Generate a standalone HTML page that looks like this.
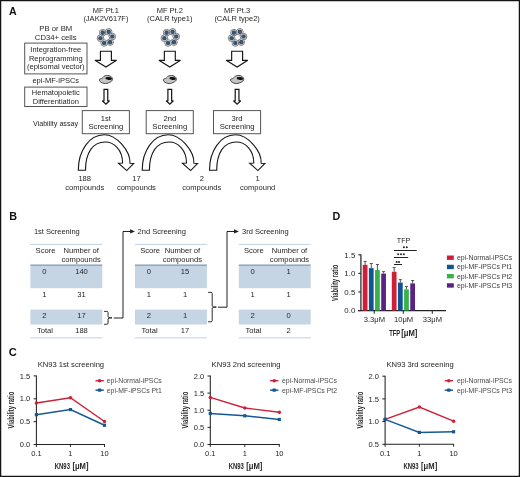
<!DOCTYPE html>
<html><head><meta charset="utf-8"><style>
html,body{margin:0;padding:0;background:#fff;overflow:hidden;}
svg{display:block;font-family:"Liberation Sans",sans-serif;will-change:transform;}
</style></head><body>
<svg width="520" height="477" viewBox="0 0 520 477" font-family="Liberation Sans, sans-serif">
<rect x="0.6" y="0.6" width="518.8" height="475.8" fill="none" stroke="#151515" stroke-width="1.3"/>
<text x="9.10" y="15.20" font-size="10.6" text-anchor="start" fill="#111" font-weight="bold">A</text>
<text x="105.90" y="12.60" font-size="7.5" text-anchor="middle" fill="#262626">MF Pt.1</text>
<text x="105.90" y="20.80" font-size="7.5" text-anchor="middle" fill="#262626">(JAK2V617F)</text>
<text x="169.80" y="12.60" font-size="7.5" text-anchor="middle" fill="#262626">MF Pt.2</text>
<text x="169.80" y="20.80" font-size="7.5" text-anchor="middle" fill="#262626">(CALR type1)</text>
<text x="237.10" y="12.60" font-size="7.5" text-anchor="middle" fill="#262626">MF Pt.3</text>
<text x="237.10" y="20.80" font-size="7.5" text-anchor="middle" fill="#262626">(CALR type2)</text>
<text x="55.80" y="30.50" font-size="7.7" text-anchor="middle" fill="#262626">PB or BM</text>
<text x="55.70" y="39.50" font-size="7.7" text-anchor="middle" fill="#262626">CD34+ cells</text>
<rect x="24.7" y="43.1" width="62.3" height="30.8" fill="#fff" stroke="#555" stroke-width="1"/>
<text x="55.80" y="52.20" font-size="7.5" text-anchor="middle" fill="#262626">Integration-free</text>
<text x="55.80" y="60.70" font-size="7.5" text-anchor="middle" fill="#262626">Reprogramming</text>
<text x="55.80" y="69.20" font-size="7.5" text-anchor="middle" fill="#262626">(episomal vector)</text>
<text x="55.80" y="82.75" font-size="7.5" text-anchor="middle" fill="#262626">epi-MF-iPSCs</text>
<rect x="24.7" y="87.1" width="62.3" height="19.4" fill="#fff" stroke="#555" stroke-width="1"/>
<text x="55.80" y="95.20" font-size="7.5" text-anchor="middle" fill="#262626">Hematopoietic</text>
<text x="55.80" y="103.50" font-size="7.5" text-anchor="middle" fill="#262626">Differentiation</text>
<text x="55.50" y="126.40" font-size="7.15" text-anchor="middle" fill="#262626">Viability assay</text>
<circle cx="102.71" cy="32.67" r="3.3" fill="#fff" stroke="#666" stroke-width="0.85"/>
<circle cx="108.65" cy="31.84" r="3.3" fill="#fff" stroke="#666" stroke-width="0.85"/>
<circle cx="112.34" cy="36.56" r="3.3" fill="#fff" stroke="#666" stroke-width="0.85"/>
<circle cx="110.09" cy="42.13" r="3.3" fill="#fff" stroke="#666" stroke-width="0.85"/>
<circle cx="104.15" cy="42.96" r="3.3" fill="#fff" stroke="#666" stroke-width="0.85"/>
<circle cx="100.46" cy="38.24" r="3.3" fill="#fff" stroke="#666" stroke-width="0.85"/>
<circle cx="102.71" cy="32.67" r="2.3" fill="#3b546e"/>
<circle cx="108.65" cy="31.84" r="2.3" fill="#3b546e"/>
<circle cx="112.34" cy="36.56" r="2.3" fill="#3b546e"/>
<circle cx="110.09" cy="42.13" r="2.3" fill="#3b546e"/>
<circle cx="104.15" cy="42.96" r="2.3" fill="#3b546e"/>
<circle cx="100.46" cy="38.24" r="2.3" fill="#3b546e"/>
<path d="M100.45,51.25 H111.40 V60.3 H116.60 L105.90,67.0 L95.00,60.3 H100.45 Z" fill="#fff" stroke="#151515" stroke-width="1.15" stroke-linejoin="miter" stroke-miterlimit="2.2"/>
<path d="M99.39,79.53 C99.67,78.97 101.26,78.68 101.93,78.26 C102.60,77.84 102.99,77.37 103.42,76.99 C103.85,76.61 103.97,76.25 104.50,76.00 C105.03,75.75 105.83,75.55 106.60,75.50 C107.37,75.45 108.33,75.50 109.10,75.70 C109.87,75.90 110.65,76.25 111.20,76.70 C111.75,77.15 112.22,77.82 112.40,78.40 C112.59,78.98 112.57,79.63 112.31,80.17 C112.05,80.71 111.50,81.19 110.83,81.65 C110.16,82.11 109.21,82.60 108.29,82.92 C107.37,83.24 106.31,83.56 105.32,83.56 C104.33,83.56 103.21,83.24 102.36,82.92 C101.51,82.60 100.73,82.22 100.24,81.65 C99.74,81.09 99.11,80.09 99.39,79.53 Z" fill="#c4c4c4" stroke="#333" stroke-width="0.9"/>
<ellipse cx="108.70" cy="78.5" rx="3.25" ry="1.4" fill="#111" transform="rotate(8 108.70 78.5)"/>
<path d="M104.00,89.45 H107.75 V100.75 H109.50 L105.90,104.2 L102.30,100.75 H104.00 Z" fill="#fff" stroke="#151515" stroke-width="1.2" stroke-linejoin="miter" stroke-miterlimit="2.2"/>
<rect x="82.30" y="110.6" width="47.1" height="23.1" fill="#fff" stroke="#555" stroke-width="1"/>
<text x="105.90" y="120.70" font-size="7.6" text-anchor="middle" fill="#262626">1st</text>
<text x="105.90" y="128.80" font-size="7.75" text-anchor="middle" fill="#262626">Screening</text>
<path d="M78.30,170.3 C78.30,151 89.00,134.8 104.30,134.8 C116.50,134.8 130.50,151 130.00,163.2 L133.70,163.4 L126.75,170.6 L118.45,163.2 L122.60,163 C122.60,150 114.00,142 105.30,142 C92.50,142 85.50,153 85.50,170.3 Z" fill="#fff" stroke="#151515" stroke-width="1.1" stroke-linejoin="miter"/>
<circle cx="166.61" cy="32.67" r="3.3" fill="#fff" stroke="#666" stroke-width="0.85"/>
<circle cx="172.55" cy="31.84" r="3.3" fill="#fff" stroke="#666" stroke-width="0.85"/>
<circle cx="176.24" cy="36.56" r="3.3" fill="#fff" stroke="#666" stroke-width="0.85"/>
<circle cx="173.99" cy="42.13" r="3.3" fill="#fff" stroke="#666" stroke-width="0.85"/>
<circle cx="168.05" cy="42.96" r="3.3" fill="#fff" stroke="#666" stroke-width="0.85"/>
<circle cx="164.36" cy="38.24" r="3.3" fill="#fff" stroke="#666" stroke-width="0.85"/>
<circle cx="166.61" cy="32.67" r="2.3" fill="#3b546e"/>
<circle cx="172.55" cy="31.84" r="2.3" fill="#3b546e"/>
<circle cx="176.24" cy="36.56" r="2.3" fill="#3b546e"/>
<circle cx="173.99" cy="42.13" r="2.3" fill="#3b546e"/>
<circle cx="168.05" cy="42.96" r="2.3" fill="#3b546e"/>
<circle cx="164.36" cy="38.24" r="2.3" fill="#3b546e"/>
<path d="M164.35,51.25 H175.30 V60.3 H180.50 L169.80,67.0 L158.90,60.3 H164.35 Z" fill="#fff" stroke="#151515" stroke-width="1.15" stroke-linejoin="miter" stroke-miterlimit="2.2"/>
<path d="M163.29,79.53 C163.57,78.97 165.16,78.68 165.83,78.26 C166.50,77.84 166.89,77.37 167.32,76.99 C167.75,76.61 167.87,76.25 168.40,76.00 C168.93,75.75 169.73,75.55 170.50,75.50 C171.27,75.45 172.23,75.50 173.00,75.70 C173.77,75.90 174.55,76.25 175.10,76.70 C175.65,77.15 176.12,77.82 176.30,78.40 C176.49,78.98 176.47,79.63 176.21,80.17 C175.95,80.71 175.40,81.19 174.73,81.65 C174.06,82.11 173.11,82.60 172.19,82.92 C171.27,83.24 170.21,83.56 169.22,83.56 C168.23,83.56 167.11,83.24 166.26,82.92 C165.41,82.60 164.63,82.22 164.14,81.65 C163.64,81.09 163.01,80.09 163.29,79.53 Z" fill="#c4c4c4" stroke="#333" stroke-width="0.9"/>
<ellipse cx="172.60" cy="78.5" rx="3.25" ry="1.4" fill="#111" transform="rotate(8 172.60 78.5)"/>
<path d="M167.90,89.45 H171.65 V100.75 H173.40 L169.80,104.2 L166.20,100.75 H167.90 Z" fill="#fff" stroke="#151515" stroke-width="1.2" stroke-linejoin="miter" stroke-miterlimit="2.2"/>
<rect x="146.20" y="110.6" width="47.1" height="23.1" fill="#fff" stroke="#555" stroke-width="1"/>
<text x="169.80" y="120.70" font-size="7.6" text-anchor="middle" fill="#262626">2nd</text>
<text x="169.80" y="128.80" font-size="7.75" text-anchor="middle" fill="#262626">Screening</text>
<path d="M142.20,170.3 C142.20,151 152.90,134.8 168.20,134.8 C180.40,134.8 194.40,151 193.90,163.2 L197.60,163.4 L190.65,170.6 L182.35,163.2 L186.50,163 C186.50,150 177.90,142 169.20,142 C156.40,142 149.40,153 149.40,170.3 Z" fill="#fff" stroke="#151515" stroke-width="1.1" stroke-linejoin="miter"/>
<circle cx="233.91" cy="32.67" r="3.3" fill="#fff" stroke="#666" stroke-width="0.85"/>
<circle cx="239.85" cy="31.84" r="3.3" fill="#fff" stroke="#666" stroke-width="0.85"/>
<circle cx="243.54" cy="36.56" r="3.3" fill="#fff" stroke="#666" stroke-width="0.85"/>
<circle cx="241.29" cy="42.13" r="3.3" fill="#fff" stroke="#666" stroke-width="0.85"/>
<circle cx="235.35" cy="42.96" r="3.3" fill="#fff" stroke="#666" stroke-width="0.85"/>
<circle cx="231.66" cy="38.24" r="3.3" fill="#fff" stroke="#666" stroke-width="0.85"/>
<circle cx="233.91" cy="32.67" r="2.3" fill="#3b546e"/>
<circle cx="239.85" cy="31.84" r="2.3" fill="#3b546e"/>
<circle cx="243.54" cy="36.56" r="2.3" fill="#3b546e"/>
<circle cx="241.29" cy="42.13" r="2.3" fill="#3b546e"/>
<circle cx="235.35" cy="42.96" r="2.3" fill="#3b546e"/>
<circle cx="231.66" cy="38.24" r="2.3" fill="#3b546e"/>
<path d="M231.65,51.25 H242.60 V60.3 H247.80 L237.10,67.0 L226.20,60.3 H231.65 Z" fill="#fff" stroke="#151515" stroke-width="1.15" stroke-linejoin="miter" stroke-miterlimit="2.2"/>
<path d="M230.59,79.53 C230.87,78.97 232.46,78.68 233.13,78.26 C233.80,77.84 234.19,77.37 234.62,76.99 C235.05,76.61 235.17,76.25 235.70,76.00 C236.23,75.75 237.03,75.55 237.80,75.50 C238.57,75.45 239.53,75.50 240.30,75.70 C241.07,75.90 241.85,76.25 242.40,76.70 C242.95,77.15 243.41,77.82 243.60,78.40 C243.78,78.98 243.77,79.63 243.51,80.17 C243.25,80.71 242.70,81.19 242.03,81.65 C241.36,82.11 240.41,82.60 239.49,82.92 C238.57,83.24 237.51,83.56 236.52,83.56 C235.53,83.56 234.41,83.24 233.56,82.92 C232.71,82.60 231.94,82.22 231.44,81.65 C230.94,81.09 230.31,80.09 230.59,79.53 Z" fill="#c4c4c4" stroke="#333" stroke-width="0.9"/>
<ellipse cx="239.90" cy="78.5" rx="3.25" ry="1.4" fill="#111" transform="rotate(8 239.90 78.5)"/>
<path d="M235.20,89.45 H238.95 V100.75 H240.70 L237.10,104.2 L233.50,100.75 H235.20 Z" fill="#fff" stroke="#151515" stroke-width="1.2" stroke-linejoin="miter" stroke-miterlimit="2.2"/>
<rect x="213.50" y="110.6" width="47.1" height="23.1" fill="#fff" stroke="#555" stroke-width="1"/>
<text x="237.10" y="120.70" font-size="7.6" text-anchor="middle" fill="#262626">3rd</text>
<text x="237.10" y="128.80" font-size="7.75" text-anchor="middle" fill="#262626">Screening</text>
<path d="M209.50,170.3 C209.50,151 220.20,134.8 235.50,134.8 C247.70,134.8 261.70,151 261.20,163.2 L264.90,163.4 L257.95,170.6 L249.65,163.2 L253.80,163 C253.80,150 245.20,142 236.50,142 C223.70,142 216.70,153 216.70,170.3 Z" fill="#fff" stroke="#151515" stroke-width="1.1" stroke-linejoin="miter"/>
<text x="84.70" y="180.50" font-size="7.55" text-anchor="middle" fill="#262626">188</text>
<text x="84.70" y="189.50" font-size="7.55" text-anchor="middle" fill="#262626">compounds</text>
<text x="136.40" y="180.50" font-size="7.55" text-anchor="middle" fill="#262626">17</text>
<text x="136.40" y="189.50" font-size="7.55" text-anchor="middle" fill="#262626">compounds</text>
<text x="201.80" y="180.50" font-size="7.55" text-anchor="middle" fill="#262626">2</text>
<text x="201.80" y="189.50" font-size="7.55" text-anchor="middle" fill="#262626">compounds</text>
<text x="257.70" y="180.50" font-size="7.55" text-anchor="middle" fill="#262626">1</text>
<text x="257.70" y="189.50" font-size="7.55" text-anchor="middle" fill="#262626">compound</text>
<text x="9.30" y="219.60" font-size="10.8" text-anchor="start" fill="#111" font-weight="bold">B</text>
<text x="33.90" y="234.40" font-size="7.5" text-anchor="start" fill="#262626">1st Screening</text>
<rect x="30.4" y="265.4" width="71.9" height="22.8" fill="#c5d5e4"/>
<rect x="30.4" y="309.6" width="71.9" height="14.9" fill="#c5d5e4"/>
<rect x="30.4" y="243.9" width="71.9" height="1" fill="#bfd1e3"/>
<rect x="30.4" y="264.6" width="71.9" height="1.0" fill="#5783ad"/>
<rect x="30.4" y="337.3" width="71.9" height="1.1" fill="#c3d4e5"/>
<text x="45.50" y="253.40" font-size="7.6" text-anchor="middle" fill="#262626">Score</text>
<text x="81.20" y="253.40" font-size="7.6" text-anchor="middle" fill="#262626">Number of</text>
<text x="81.20" y="261.60" font-size="7.6" text-anchor="middle" fill="#262626">compounds</text>
<text x="44.30" y="273.80" font-size="7.6" text-anchor="middle" fill="#262626">0</text>
<text x="81.50" y="273.80" font-size="7.6" text-anchor="middle" fill="#262626">140</text>
<text x="44.30" y="297.20" font-size="7.6" text-anchor="middle" fill="#262626">1</text>
<text x="81.50" y="297.20" font-size="7.6" text-anchor="middle" fill="#262626">31</text>
<text x="44.30" y="318.10" font-size="7.6" text-anchor="middle" fill="#262626">2</text>
<text x="81.50" y="318.10" font-size="7.6" text-anchor="middle" fill="#262626">17</text>
<text x="45.00" y="333.10" font-size="7.6" text-anchor="middle" fill="#262626">Total</text>
<text x="81.50" y="333.10" font-size="7.6" text-anchor="middle" fill="#262626">188</text>
<text x="137.60" y="234.40" font-size="7.5" text-anchor="start" fill="#262626">2nd Screening</text>
<rect x="135.0" y="265.4" width="71.9" height="22.8" fill="#c5d5e4"/>
<rect x="135.0" y="309.6" width="71.9" height="14.9" fill="#c5d5e4"/>
<rect x="135.0" y="243.9" width="71.9" height="1" fill="#bfd1e3"/>
<rect x="135.0" y="264.6" width="71.9" height="1.0" fill="#5783ad"/>
<rect x="135.0" y="337.3" width="71.9" height="1.1" fill="#c3d4e5"/>
<text x="150.10" y="253.40" font-size="7.6" text-anchor="middle" fill="#262626">Score</text>
<text x="182.40" y="253.40" font-size="7.6" text-anchor="middle" fill="#262626">Number of</text>
<text x="182.40" y="261.60" font-size="7.6" text-anchor="middle" fill="#262626">compounds</text>
<text x="148.90" y="273.80" font-size="7.6" text-anchor="middle" fill="#262626">0</text>
<text x="185.00" y="273.80" font-size="7.6" text-anchor="middle" fill="#262626">15</text>
<text x="148.90" y="297.20" font-size="7.6" text-anchor="middle" fill="#262626">1</text>
<text x="185.00" y="297.20" font-size="7.6" text-anchor="middle" fill="#262626">1</text>
<text x="148.90" y="318.10" font-size="7.6" text-anchor="middle" fill="#262626">2</text>
<text x="185.00" y="318.10" font-size="7.6" text-anchor="middle" fill="#262626">1</text>
<text x="149.60" y="333.10" font-size="7.6" text-anchor="middle" fill="#262626">Total</text>
<text x="185.00" y="333.10" font-size="7.6" text-anchor="middle" fill="#262626">17</text>
<text x="242.00" y="234.40" font-size="7.5" text-anchor="start" fill="#262626">3rd Screening</text>
<rect x="238.8" y="265.4" width="71.9" height="22.8" fill="#c5d5e4"/>
<rect x="238.8" y="309.6" width="71.9" height="14.9" fill="#c5d5e4"/>
<rect x="238.8" y="243.9" width="71.9" height="1" fill="#bfd1e3"/>
<rect x="238.8" y="264.6" width="71.9" height="1.0" fill="#5783ad"/>
<rect x="238.8" y="337.3" width="71.9" height="1.1" fill="#c3d4e5"/>
<text x="253.90" y="253.40" font-size="7.6" text-anchor="middle" fill="#262626">Score</text>
<text x="289.50" y="253.40" font-size="7.6" text-anchor="middle" fill="#262626">Number of</text>
<text x="289.50" y="261.60" font-size="7.6" text-anchor="middle" fill="#262626">compounds</text>
<text x="252.70" y="273.80" font-size="7.6" text-anchor="middle" fill="#262626">0</text>
<text x="288.50" y="273.80" font-size="7.6" text-anchor="middle" fill="#262626">1</text>
<text x="252.70" y="297.20" font-size="7.6" text-anchor="middle" fill="#262626">1</text>
<text x="288.50" y="297.20" font-size="7.6" text-anchor="middle" fill="#262626">1</text>
<text x="252.70" y="318.10" font-size="7.6" text-anchor="middle" fill="#262626">2</text>
<text x="288.50" y="318.10" font-size="7.6" text-anchor="middle" fill="#262626">0</text>
<text x="253.40" y="333.10" font-size="7.6" text-anchor="middle" fill="#262626">Total</text>
<text x="288.50" y="333.10" font-size="7.6" text-anchor="middle" fill="#262626">2</text>
<path d="M104.1,311.4 L106.85,311.4 Q108.05,311.4 108.05,312.60 L108.05,316.85 Q108.05,317.85 112.00,317.85 Q108.05,317.85 108.05,318.85 L108.05,323.10 Q108.05,324.3 106.85,324.3 L104.1,324.3" fill="none" stroke="#222" stroke-width="0.95"/>
<path d="M113.8,318.0 H123 V231.5 H132.5" fill="none" stroke="#222" stroke-width="1.0"/>
<path d="M130.1,229.2 L135.0,231.4 L130.1,233.6 Z" fill="#222"/>
<path d="M208.1,292.4 L211.00,292.4 Q212.20,292.4 212.20,293.60 L212.20,306.10 Q212.20,307.10 216.30,307.10 Q212.20,307.10 212.20,308.10 L212.20,320.60 Q212.20,321.8 211.00,321.8 L208.1,321.8" fill="none" stroke="#222" stroke-width="0.95"/>
<path d="M217.9,307.2 H227 V231.5 H236" fill="none" stroke="#222" stroke-width="1.0"/>
<path d="M234.0,229.2 L238.9,231.4 L234.0,233.6 Z" fill="#222"/>
<text x="332.60" y="219.60" font-size="10.8" text-anchor="start" fill="#111" font-weight="bold">D</text>
<path d="M360.9,254.50 V310.6" fill="none" stroke="#4a4a4a" stroke-width="1.5"/>
<path d="M358.0,310.6 H446" fill="none" stroke="#222" stroke-width="1.3"/>
<path d="M358.29999999999995,254.80 H360.9" stroke="#333" stroke-width="1.2"/>
<text x="355.30" y="257.60" font-size="7.9" text-anchor="end" fill="#262626">1.5</text>
<path d="M358.29999999999995,273.40 H360.9" stroke="#333" stroke-width="1.2"/>
<text x="355.30" y="276.20" font-size="7.9" text-anchor="end" fill="#262626">1.0</text>
<path d="M358.29999999999995,292.00 H360.9" stroke="#333" stroke-width="1.2"/>
<text x="355.30" y="294.80" font-size="7.9" text-anchor="end" fill="#262626">0.5</text>
<path d="M358.29999999999995,310.60 H360.9" stroke="#333" stroke-width="1.2"/>
<text x="355.30" y="313.40" font-size="7.9" text-anchor="end" fill="#262626">0.0</text>
<path d="M374.2,310.6 V313.8" stroke="#333" stroke-width="1.1"/>
<path d="M403.3,310.6 V313.8" stroke="#333" stroke-width="1.1"/>
<path d="M432.3,310.6 V313.8" stroke="#333" stroke-width="1.1"/>
<text x="374.40" y="322.10" font-size="7.6" text-anchor="middle" fill="#262626">3.3μM</text>
<text x="403.60" y="322.10" font-size="7.6" text-anchor="middle" fill="#262626">10μM</text>
<text x="432.40" y="322.10" font-size="7.6" text-anchor="middle" fill="#262626">33μM</text>
<rect x="362.75" y="264.81" width="4.75" height="45.79" fill="#cc1f3a"/>
<path d="M365.12,264.81 V261.38 M363.60,261.38 H366.65" stroke="#444" stroke-width="0.9" fill="none"/>
<rect x="368.90" y="268.12" width="4.75" height="42.48" fill="#11548f"/>
<path d="M371.27,268.12 V263.50 M369.75,263.50 H372.80" stroke="#444" stroke-width="0.9" fill="none"/>
<rect x="375.05" y="270.05" width="4.75" height="40.55" fill="#35b249"/>
<path d="M377.42,270.05 V264.47 M375.90,264.47 H378.95" stroke="#444" stroke-width="0.9" fill="none"/>
<rect x="381.20" y="273.59" width="4.75" height="37.01" fill="#5a2383"/>
<path d="M383.57,273.59 V271.61 M382.05,271.61 H385.10" stroke="#444" stroke-width="0.9" fill="none"/>
<rect x="391.80" y="271.76" width="4.75" height="38.84" fill="#cc1f3a"/>
<path d="M394.17,271.76 V267.60 M392.65,267.60 H395.70" stroke="#444" stroke-width="0.9" fill="none"/>
<rect x="397.95" y="282.59" width="4.75" height="28.01" fill="#11548f"/>
<path d="M400.32,282.59 V279.61 M398.80,279.61 H401.85" stroke="#444" stroke-width="0.9" fill="none"/>
<rect x="404.10" y="289.40" width="4.75" height="21.20" fill="#35b249"/>
<path d="M406.47,289.40 V286.42 M404.95,286.42 H408.00" stroke="#444" stroke-width="0.9" fill="none"/>
<rect x="410.25" y="283.41" width="4.75" height="27.19" fill="#5a2383"/>
<path d="M412.62,283.41 V280.51 M411.10,280.51 H414.15" stroke="#444" stroke-width="0.9" fill="none"/>
<text x="403.60" y="242.90" font-size="7.2" text-anchor="middle" fill="#262626">TFP</text>
<path d="M394,250.45 H416.7 M394,257.5 H408.2 M394,264.55 H402" stroke="#222" stroke-width="1.1"/>
<circle cx="403.9" cy="247.3" r="1.0" fill="#222"/>
<circle cx="406.8" cy="247.3" r="1.0" fill="#222"/>
<circle cx="398.2" cy="254.3" r="1.0" fill="#222"/>
<circle cx="401.0" cy="254.3" r="1.0" fill="#222"/>
<circle cx="403.8" cy="254.3" r="1.0" fill="#222"/>
<circle cx="396.7" cy="262.0" r="1.0" fill="#222"/>
<circle cx="399.0" cy="262.0" r="1.0" fill="#222"/>
<rect x="446.9" y="255.50" width="6.9" height="4.4" fill="#cc1f3a"/>
<text x="456.90" y="260.10" font-size="6.92" text-anchor="start" fill="#3a3a3a">epi-Normal-iPSCs</text>
<rect x="446.9" y="264.75" width="6.9" height="4.4" fill="#11548f"/>
<text x="456.90" y="269.35" font-size="6.92" text-anchor="start" fill="#3a3a3a">epi-MF-iPSCs Pt1</text>
<rect x="446.9" y="274.00" width="6.9" height="4.4" fill="#35b249"/>
<text x="456.90" y="278.60" font-size="6.92" text-anchor="start" fill="#3a3a3a">epi-MF-iPSCs Pt2</text>
<rect x="446.9" y="283.25" width="6.9" height="4.4" fill="#5a2383"/>
<text x="456.90" y="287.85" font-size="6.92" text-anchor="start" fill="#3a3a3a">epi-MF-iPSCs Pt3</text>
<text transform="translate(338.00,282.90) rotate(-90) scale(0.71,1)" font-size="8.2" text-anchor="middle" fill="#262626" font-weight="bold">Viability ratio</text>
<text transform="translate(389.16,335.60) scale(0.66,1)" font-size="8.8" text-anchor="start" fill="#262626" font-weight="bold">TFP</text>
<text transform="translate(401.18,335.60) scale(0.87,1)" font-size="8.8" text-anchor="start" fill="#262626" font-weight="bold">[μM]</text>
<text x="8.80" y="355.90" font-size="11.1" text-anchor="start" fill="#111" font-weight="bold">C</text>
<path d="M36.4,375.50 V444.55 H105.00" fill="none" stroke="#222" stroke-width="1.05"/>
<path d="M33.6,444.55 H36.4" stroke="#222" stroke-width="1"/>
<text x="30.30" y="447.15" font-size="7.5" text-anchor="end" fill="#262626">0.0</text>
<path d="M33.6,421.67 H36.4" stroke="#222" stroke-width="1"/>
<text x="30.30" y="424.27" font-size="7.5" text-anchor="end" fill="#262626">0.5</text>
<path d="M33.6,398.78 H36.4" stroke="#222" stroke-width="1"/>
<text x="30.30" y="401.38" font-size="7.5" text-anchor="end" fill="#262626">1.0</text>
<path d="M33.6,375.90 H36.4" stroke="#222" stroke-width="1"/>
<text x="30.30" y="378.50" font-size="7.5" text-anchor="end" fill="#262626">1.5</text>
<path d="M36.40,444.55 V446.95" stroke="#222" stroke-width="1"/>
<text x="36.40" y="455.90" font-size="7.5" text-anchor="middle" fill="#262626">0.1</text>
<path d="M70.45,444.55 V446.95" stroke="#222" stroke-width="1"/>
<text x="70.45" y="455.90" font-size="7.5" text-anchor="middle" fill="#262626">1</text>
<path d="M104.50,444.55 V446.95" stroke="#222" stroke-width="1"/>
<text x="104.50" y="455.90" font-size="7.5" text-anchor="middle" fill="#262626">10</text>
<text x="37.70" y="366.80" font-size="7.62" text-anchor="start" fill="#262626">KN93 1st screening</text>
<polyline points="36.40,402.99 70.45,397.68 104.50,421.53" fill="none" stroke="#cf2038" stroke-width="1.45"/>
<circle cx="36.40" cy="402.99" r="1.75" fill="#cf2038"/>
<circle cx="70.45" cy="397.68" r="1.75" fill="#cf2038"/>
<circle cx="104.50" cy="421.53" r="1.75" fill="#cf2038"/>
<polyline points="36.40,414.66 70.45,409.58 104.50,425.24" fill="none" stroke="#175893" stroke-width="1.45"/>
<rect x="34.80" y="413.06" width="3.2" height="3.2" fill="#175893"/>
<rect x="68.85" y="407.98" width="3.2" height="3.2" fill="#175893"/>
<rect x="102.90" y="423.64" width="3.2" height="3.2" fill="#175893"/>
<path d="M95.50,380.70 H103.80" stroke="#cf2038" stroke-width="1.45"/>
<circle cx="99.60" cy="380.70" r="1.8" fill="#cf2038"/>
<text x="106.80" y="383.00" font-size="6.88" text-anchor="start" fill="#4a4a4a">epi-Normal-iPSCs</text>
<path d="M95.50,390.20 H103.80" stroke="#175893" stroke-width="1.45"/>
<rect x="97.80" y="388.60" width="3.6" height="3.2" rx="0.8" fill="#175893"/>
<text x="106.80" y="392.50" font-size="6.88" text-anchor="start" fill="#4a4a4a">epi-MF-iPSCs Pt1</text>
<text transform="translate(13.80,410.10) rotate(-90) scale(0.7,1)" font-size="8.4" text-anchor="middle" fill="#262626" font-weight="bold">Viability ratio</text>
<text transform="translate(54.76,469.20) scale(0.7,1)" font-size="8.5" text-anchor="start" fill="#262626" font-weight="bold">KN93</text>
<text transform="translate(72.38,469.20) scale(0.9,1)" font-size="8.5" text-anchor="start" fill="#262626" font-weight="bold">[μM]</text>
<path d="M210.3,375.60 V444.5 H279.80" fill="none" stroke="#222" stroke-width="1.05"/>
<path d="M207.5,444.50 H210.3" stroke="#222" stroke-width="1"/>
<text x="204.20" y="447.10" font-size="7.5" text-anchor="end" fill="#262626">0.0</text>
<path d="M207.5,427.38 H210.3" stroke="#222" stroke-width="1"/>
<text x="204.20" y="429.98" font-size="7.5" text-anchor="end" fill="#262626">0.5</text>
<path d="M207.5,410.25 H210.3" stroke="#222" stroke-width="1"/>
<text x="204.20" y="412.85" font-size="7.5" text-anchor="end" fill="#262626">1.0</text>
<path d="M207.5,393.12 H210.3" stroke="#222" stroke-width="1"/>
<text x="204.20" y="395.73" font-size="7.5" text-anchor="end" fill="#262626">1.5</text>
<path d="M207.5,376.00 H210.3" stroke="#222" stroke-width="1"/>
<text x="204.20" y="378.60" font-size="7.5" text-anchor="end" fill="#262626">2.0</text>
<path d="M210.30,444.5 V446.9" stroke="#222" stroke-width="1"/>
<text x="210.30" y="455.90" font-size="7.5" text-anchor="middle" fill="#262626">0.1</text>
<path d="M244.80,444.5 V446.9" stroke="#222" stroke-width="1"/>
<text x="244.80" y="455.90" font-size="7.5" text-anchor="middle" fill="#262626">1</text>
<path d="M279.30,444.5 V446.9" stroke="#222" stroke-width="1"/>
<text x="279.30" y="455.90" font-size="7.5" text-anchor="middle" fill="#262626">10</text>
<text x="211.60" y="366.80" font-size="7.62" text-anchor="start" fill="#262626">KN93 2nd screening</text>
<polyline points="210.30,397.41 244.80,407.99 279.30,412.31" fill="none" stroke="#cf2038" stroke-width="1.45"/>
<circle cx="210.30" cy="397.41" r="1.75" fill="#cf2038"/>
<circle cx="244.80" cy="407.99" r="1.75" fill="#cf2038"/>
<circle cx="279.30" cy="412.31" r="1.75" fill="#cf2038"/>
<polyline points="210.30,413.50 244.80,415.80 279.30,419.50" fill="none" stroke="#175893" stroke-width="1.45"/>
<rect x="208.70" y="411.90" width="3.2" height="3.2" fill="#175893"/>
<rect x="243.20" y="414.20" width="3.2" height="3.2" fill="#175893"/>
<rect x="277.70" y="417.90" width="3.2" height="3.2" fill="#175893"/>
<path d="M270.10,380.70 H278.40" stroke="#cf2038" stroke-width="1.45"/>
<circle cx="274.20" cy="380.70" r="1.8" fill="#cf2038"/>
<text x="282.00" y="383.00" font-size="6.88" text-anchor="start" fill="#4a4a4a">epi-Normal-iPSCs</text>
<path d="M270.10,390.20 H278.40" stroke="#175893" stroke-width="1.45"/>
<rect x="272.40" y="388.60" width="3.6" height="3.2" rx="0.8" fill="#175893"/>
<text x="282.00" y="392.50" font-size="6.88" text-anchor="start" fill="#4a4a4a">epi-MF-iPSCs Pt2</text>
<text transform="translate(187.70,410.10) rotate(-90) scale(0.7,1)" font-size="8.4" text-anchor="middle" fill="#262626" font-weight="bold">Viability ratio</text>
<text transform="translate(228.66,469.20) scale(0.7,1)" font-size="8.5" text-anchor="start" fill="#262626" font-weight="bold">KN93</text>
<text transform="translate(246.28,469.20) scale(0.9,1)" font-size="8.5" text-anchor="start" fill="#262626" font-weight="bold">[μM]</text>
<path d="M385.1,375.80 V444.3 H454.10" fill="none" stroke="#222" stroke-width="1.05"/>
<path d="M382.3,444.30 H385.1" stroke="#222" stroke-width="1"/>
<text x="379.00" y="446.90" font-size="7.5" text-anchor="end" fill="#262626">0.5</text>
<path d="M382.3,421.60 H385.1" stroke="#222" stroke-width="1"/>
<text x="379.00" y="424.20" font-size="7.5" text-anchor="end" fill="#262626">1.0</text>
<path d="M382.3,398.90 H385.1" stroke="#222" stroke-width="1"/>
<text x="379.00" y="401.50" font-size="7.5" text-anchor="end" fill="#262626">1.5</text>
<path d="M382.3,376.20 H385.1" stroke="#222" stroke-width="1"/>
<text x="379.00" y="378.80" font-size="7.5" text-anchor="end" fill="#262626">2.0</text>
<path d="M385.10,444.3 V446.7" stroke="#222" stroke-width="1"/>
<text x="385.10" y="455.90" font-size="7.5" text-anchor="middle" fill="#262626">0.1</text>
<path d="M419.35,444.3 V446.7" stroke="#222" stroke-width="1"/>
<text x="419.35" y="455.90" font-size="7.5" text-anchor="middle" fill="#262626">1</text>
<path d="M453.60,444.3 V446.7" stroke="#222" stroke-width="1"/>
<text x="453.60" y="455.90" font-size="7.5" text-anchor="middle" fill="#262626">10</text>
<text x="386.40" y="366.80" font-size="7.62" text-anchor="start" fill="#262626">KN93 3rd screening</text>
<polyline points="385.10,419.33 419.35,407.03 453.60,421.15" fill="none" stroke="#cf2038" stroke-width="1.45"/>
<circle cx="385.10" cy="419.33" r="1.75" fill="#cf2038"/>
<circle cx="419.35" cy="407.03" r="1.75" fill="#cf2038"/>
<circle cx="453.60" cy="421.15" r="1.75" fill="#cf2038"/>
<polyline points="385.10,419.33 419.35,432.41 453.60,431.77" fill="none" stroke="#175893" stroke-width="1.45"/>
<rect x="383.50" y="417.73" width="3.2" height="3.2" fill="#175893"/>
<rect x="417.75" y="430.81" width="3.2" height="3.2" fill="#175893"/>
<rect x="452.00" y="430.17" width="3.2" height="3.2" fill="#175893"/>
<path d="M444.70,380.70 H453.00" stroke="#cf2038" stroke-width="1.45"/>
<circle cx="448.80" cy="380.70" r="1.8" fill="#cf2038"/>
<text x="457.00" y="383.00" font-size="6.88" text-anchor="start" fill="#4a4a4a">epi-Normal-iPSCs</text>
<path d="M444.70,390.20 H453.00" stroke="#175893" stroke-width="1.45"/>
<rect x="447.00" y="388.60" width="3.6" height="3.2" rx="0.8" fill="#175893"/>
<text x="457.00" y="392.50" font-size="6.88" text-anchor="start" fill="#4a4a4a">epi-MF-iPSCs Pt3</text>
<text transform="translate(362.50,410.10) rotate(-90) scale(0.7,1)" font-size="8.4" text-anchor="middle" fill="#262626" font-weight="bold">Viability ratio</text>
<text transform="translate(403.46,469.20) scale(0.7,1)" font-size="8.5" text-anchor="start" fill="#262626" font-weight="bold">KN93</text>
<text transform="translate(421.08,469.20) scale(0.9,1)" font-size="8.5" text-anchor="start" fill="#262626" font-weight="bold">[μM]</text>
</svg>
</body></html>
